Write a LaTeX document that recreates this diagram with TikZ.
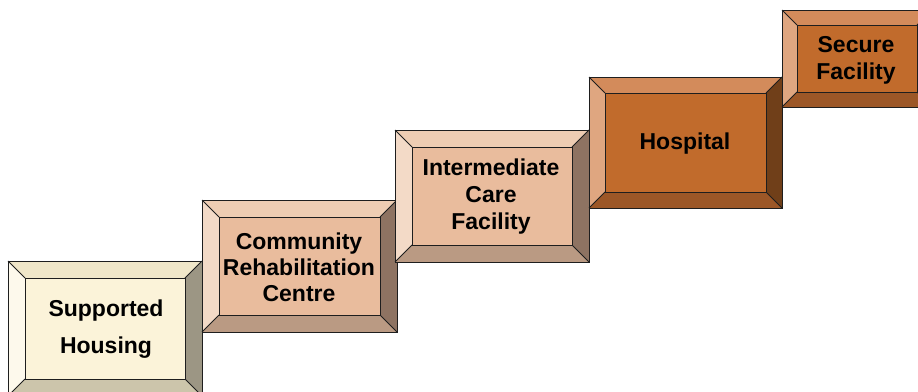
\documentclass[tikz,border=0pt]{standalone}
\usepackage{fontspec}
\setmainfont{Liberation Sans}
\definecolor{AFace}{HTML}{FBF3D9}
\definecolor{ATop}{HTML}{F0E7C9}
\definecolor{ALeft}{HTML}{FDF9EC}
\definecolor{ARight}{HTML}{9C9684}
\definecolor{ABot}{HTML}{CCC5AB}
\definecolor{BFace}{HTML}{E9BC9D}
\definecolor{BTop}{HTML}{EECDB3}
\definecolor{BLeft}{HTML}{F3DAC7}
\definecolor{BRight}{HTML}{8E7362}
\definecolor{BBot}{HTML}{BA9A83}
\definecolor{CFace}{HTML}{C16B2C}
\definecolor{CTop}{HTML}{D38B5B}
\definecolor{CLeft}{HTML}{DFA680}
\definecolor{CRight}{HTML}{703F19}
\definecolor{CBot}{HTML}{9C5727}
\definecolor{edge}{HTML}{1E1E1E}
% #1 x1, #2 y1, #3 x2, #4 y2, #5 bevel, #6 palette
\newcommand\bvbox[6]{%
  \fill[#6Top] (#1,#2) -- (#3,#2) -- ({#3-#5},{#2+#5}) -- ({#1+#5},{#2+#5}) -- cycle;
  \fill[#6Left] (#1,#2) -- ({#1+#5},{#2+#5}) -- ({#1+#5},{#4-#5}) -- (#1,#4) -- cycle;
  \fill[#6Right] (#3,#2) -- (#3,#4) -- ({#3-#5},{#4-#5}) -- ({#3-#5},{#2+#5}) -- cycle;
  \fill[#6Bot] (#1,#4) -- (#3,#4) -- ({#3-#5},{#4-#5}) -- ({#1+#5},{#4-#5}) -- cycle;
  \fill[#6Face] ({#1+#5},{#2+#5}) rectangle ({#3-#5},{#4-#5});
  \draw[boxline] (#1,#2) rectangle (#3,#4);
  \draw[boxline] ({#1+#5},{#2+#5}) rectangle ({#3-#5},{#4-#5});
  \draw[boxline] (#1,#2) -- ({#1+#5},{#2+#5});
  \draw[boxline] (#3,#2) -- ({#3-#5},{#2+#5});
  \draw[boxline] (#1,#4) -- ({#1+#5},{#4-#5});
  \draw[boxline] (#3,#4) -- ({#3-#5},{#4-#5});
}
\begin{document}
\begin{tikzpicture}[x=1pt,y=-1pt,
  boxline/.style={draw=edge,line width=0.9pt,line join=miter},
  label/.style={font=\fontsize{23}{27}\selectfont\bfseries,align=center,inner sep=0pt,text=black}]
\useasboundingbox (0,0) rectangle (918,391);
\fill[white] (0,0) rectangle (918,391);
\clip (0,0) rectangle (918,391);
\bvbox{8}{261}{202}{396}{17}{A}
\bvbox{202}{200}{397}{332}{17}{B}
\bvbox{395}{130}{589}{262}{17}{B}
\bvbox{589}{77}{782}{208}{16}{C}
\bvbox{782}{10}{932}{107}{15}{C}
\node[label] (sh) at (106,329) {Supported\\[10pt]Housing};
\node[label] (crc) at (299,267) {Community\\[-1pt]Rehabilitation\\[-1pt]Centre};
\node[label] (icf) at (491,197) {Intermediate\\Care\\Facility};
\node[label] (hos) at (685,144) {Hospital};
\node[label] (sf) at (856,60) {Secure\\Facility};
\end{tikzpicture}
\end{document}
